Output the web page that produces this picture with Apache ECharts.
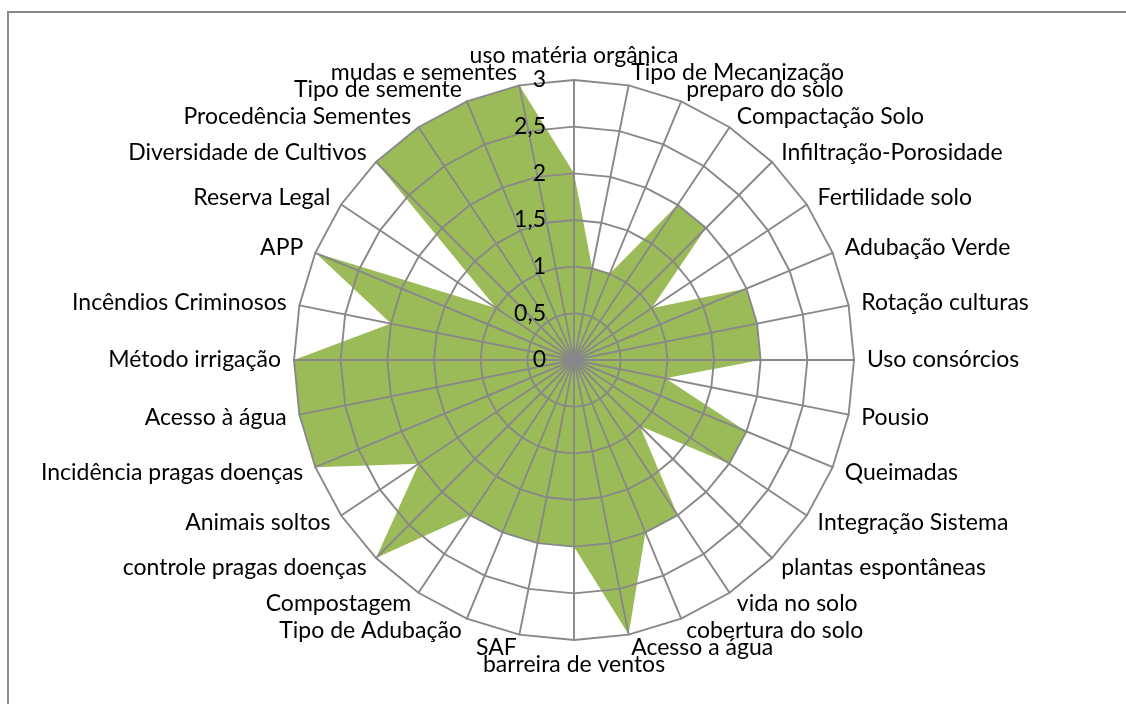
<!DOCTYPE html>
<html>
<head>
<meta charset="utf-8">
<script src="https://cdn.jsdelivr.net/npm/echarts@6/dist/echarts.min.js"></script>
<style>
html,body{margin:0;padding:0;background:#fff;}
#chart{width:1126px;height:704px;}
</style>
</head>
<body>
<div id="chart"></div>
<script>
// Categories listed clockwise starting at the top
const categories = [
  'uso matéria orgânica','Tipo de Mecanização','preparo do solo','Compactação Solo',
  'Infiltração-Porosidade','Fertilidade solo','Adubação Verde','Rotação culturas',
  'Uso consórcios','Pousio','Queimadas','Integração Sistema',
  'plantas espontâneas','vida no solo','cobertura do solo','Acesso a água',
  'barreira de ventos','SAF','Tipo de Adubação','Compostagem',
  'controle pragas doenças','Animais soltos','Incidência pragas doenças','Acesso à água',
  'Método irrigação','Incêndios Criminosos','APP','Reserva Legal',
  'Diversidade de Cultivos','Procedência Sementes','Tipo de semente','mudas e sementes'
];
const values = [
  2,1,1,2,
  2,1,2,2,
  2,1,2,2,
  1,2,2,3,
  2,2,2,2,
  3,2,3,3,
  3,2,3,1,
  3,3,3,3
];
const axisMax = 3;
const axisSteps = 6;

const FONT = 'Lato, "Liberation Sans", sans-serif';
const FS = 23;
const GRID = '#888888';

// ECharts radar runs counter-clockwise: reorder so the chart reads clockwise
const order = [0].concat(categories.map((_, i) => i).slice(1).reverse());
const ordCats = order.map(i => categories[i]);
const ordVals = order.map(i => values[i]);

const chart = echarts.init(document.getElementById('chart'), null, {renderer: 'canvas'});
const indicator = ordCats.map((c, i) => {
  const o = {name: c, min: 0, max: axisMax};
  if (i === 0) {
    o.axisLabel = {
      show: true,
      color: '#000',
      fontFamily: FONT,
      fontSize: FS,
      margin: 28,
      showMinLabel: true,
      formatter: v => String(v).replace('.', ',')
    };
  }
  return o;
});

chart.setOption({
  animation: false,
  backgroundColor: '#fff',
  graphic: [{
    type: 'rect',
    shape: {x: 8, y: 12, width: 1300, height: 900},
    style: {fill: 'none', stroke: '#8a8a8a', lineWidth: 2},
    silent: true
  }],
  radar: {
    center: [574, 360],
    radius: 280,
    startAngle: 90,
    shape: 'polygon',
    splitNumber: axisSteps,
    z: 3,
    nameGap: 13,
    axisName: {color: '#000', fontFamily: FONT, fontSize: FS},
    axisLine: {lineStyle: {color: GRID, width: 1.9}},
    splitLine: {lineStyle: {color: GRID, width: 1.9}},
    splitArea: {show: false},
    axisTick: {show: false},
    axisLabel: {show: false},
    indicator: indicator
  },
  series: [{
    type: 'radar',
    z: 1,
    symbol: 'none',
    lineStyle: {width: 0, opacity: 0},
    areaStyle: {color: '#9BBB59', opacity: 1},
    data: [{value: ordVals}]
  }]
});
</script>
</body>
</html>
